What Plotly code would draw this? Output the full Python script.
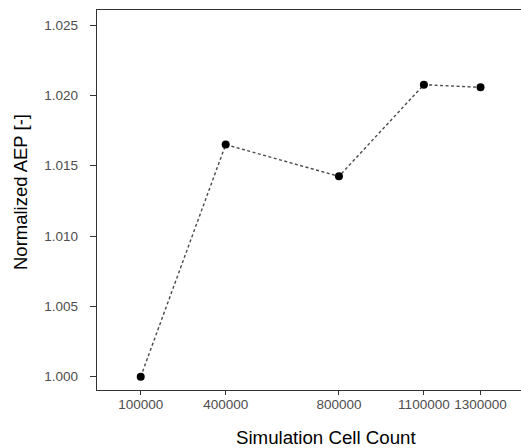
import plotly.graph_objects as go

cell_counts = [100000, 400000, 800000, 1100000, 1300000]
normalized_aep = [1.000, 1.0165, 1.01424, 1.02076, 1.02057]
x_tick_vals = [100000, 400000, 800000, 1100000, 1300000]
x_tick_text = ["100000", "400000", "800000", "1100000", "1300000"]
y_tick_vals = [1.000, 1.005, 1.010, 1.015, 1.020, 1.025]
y_tick_text = ["1.000", "1.005", "1.010", "1.015", "1.020", "1.025"]

W, H = 556, 448
ml, mr, mt, mb = 97, 0, 10, 58
pw = W - ml - mr
ph = H - mt - mb

fig = go.Figure()
fig.add_trace(go.Scatter(
    x=cell_counts, y=normalized_aep, mode="lines+markers",
    line=dict(color="#4a4a4a", width=1.4, dash="3px,2.5px"),
    marker=dict(color="black", size=8),
    showlegend=False,
))

fig.update_layout(
    width=W, height=H,
    margin=dict(l=ml, r=mr, t=mt, b=mb, autoexpand=False),
    plot_bgcolor="white", paper_bgcolor="white",
    font=dict(family="Liberation Sans, Arial, sans-serif"),
    xaxis=dict(
        range=[-54400, 1566500], tickvals=x_tick_vals, ticktext=x_tick_text,
        showgrid=False, zeroline=False, showline=True, linecolor="#333333",
        linewidth=1.3, mirror=True, ticks="outside", ticklen=4,
        tickcolor="#333333", tickfont=dict(size=13.5, color="#4d4d4d"),
        automargin=False, ticklabelstandoff=-2,
    ),
    yaxis=dict(
        range=[0.99905, 1.02607], tickvals=y_tick_vals, ticktext=y_tick_text,
        showgrid=False, zeroline=False, showline=True, linecolor="#333333",
        linewidth=1.3, ticks="outside", ticklen=6,
        tickcolor="#333333", tickfont=dict(size=13.5, color="#4d4d4d"),
        automargin=False, ticklabelstandoff=9,
    ),
    annotations=[
        dict(text="Simulation Cell Count", xref="paper", yref="paper",
             x=(326.7 - ml) / pw, y=-(437 - (mt + ph)) / ph,
             xanchor="center", yanchor="middle", showarrow=False,
             font=dict(size=18.7, color="black")),
        dict(text="Normalized AEP [-]", xref="paper", yref="paper",
             x=(20 - ml) / pw, y=((mt + ph) - 192) / ph, textangle=-90,
             xanchor="center", yanchor="middle", showarrow=False,
             font=dict(size=18.5, color="black")),
    ],
)

fig.write_html(
    "out.html",
    config={"displayModeBar": False},
    post_script=(
        "document.documentElement.style.overflow='hidden';"
        "document.body.style.margin='0';"
        "document.body.style.overflow='hidden';"
    ),
)
